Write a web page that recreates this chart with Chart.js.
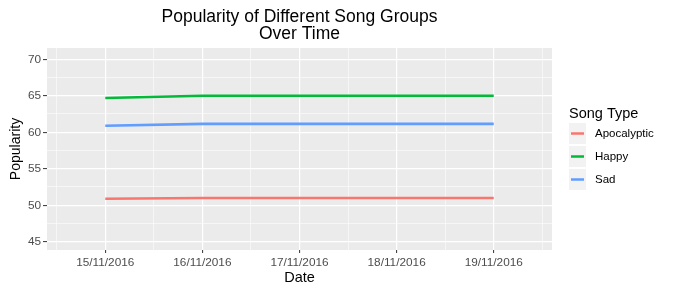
<!DOCTYPE html>
<html>
<head>
<meta charset="utf-8">
<script src="https://cdn.jsdelivr.net/npm/chart.js@4"></script>
<style>
html,body{margin:0;padding:0;background:#fff;}
#wrap{width:679px;height:292px;}
</style>
</head>
<body>
<div id="wrap"><canvas id="c" width="679" height="292"></canvas></div>
<script>
const dates = ['15/11/2016','16/11/2016','17/11/2016','18/11/2016','19/11/2016'];
const apocalyptic = [50.9, 51.0, 51.0, 51.0, 51.0];
const happy = [64.7, 65.0, 65.0, 65.0, 65.0];
const sad = [60.9, 61.15, 61.15, 61.15, 61.15];
const yTicks = [45, 50, 55, 60, 65, 70];
const seriesNames = ['Apocalyptic', 'Happy', 'Sad'];
const seriesColors = ['#F8766D', '#00BA38', '#619CFF'];
const titleLines = ['Popularity of Different Song Groups', 'Over Time'];
const legendTitle = 'Song Type';

const FONT = '"Liberation Sans", Arial, Helvetica, sans-serif';
const seriesData = [apocalyptic, happy, sad];

const bgPlugin = {
  id: 'panelBg',
  beforeDraw(chart) {
    const a = chart.chartArea, c = chart.ctx;
    c.save();
    c.fillStyle = '#EBEBEB';
    c.fillRect(a.left, a.top, a.right - a.left, a.bottom - a.top);
    c.restore();
  },
  afterDraw(chart) {
    const a = chart.chartArea, c = chart.ctx;
    c.save();
    // title
    c.fillStyle = '#000';
    c.font = '17.5px ' + FONT;
    c.textAlign = 'center';
    c.textBaseline = 'alphabetic';
    const cx = (a.left + a.right) / 2;
    c.fillText(titleLines[0], cx, 21.5);
    c.fillText(titleLines[1], cx, 39);
    // legend
    const lx = 569;
    c.textAlign = 'left';
    c.font = '14.5px ' + FONT;
    c.fillText(legendTitle, lx, 118);
    const rowY = [133.5, 156.5, 179.5];
    c.font = '11.5px ' + FONT;
    for (let i = 0; i < seriesNames.length; i++) {
      const y = rowY[i];
      c.fillStyle = '#F2F2F2';
      c.fillRect(lx, y - 10.5, 17, 21);
      c.strokeStyle = seriesColors[i];
      c.lineWidth = 2.5;
      c.beginPath();
      c.moveTo(lx + 2, y);
      c.lineTo(lx + 15, y);
      c.stroke();
      c.fillStyle = '#000';
      c.textBaseline = 'middle';
      c.fillText(seriesNames[i], lx + 26, y);
    }
    c.restore();
  }
};

const isMajorX = v => Math.abs(v - Math.round(v)) < 1e-6;
const isMajorY = v => yTicks.some(t => Math.abs(t - v) < 1e-6);

new Chart(document.getElementById('c'), {
  type: 'line',
  data: {
    datasets: seriesNames.map((n, i) => ({
      label: n,
      data: seriesData[i].map((v, j) => ({ x: j, y: v })),
      borderColor: seriesColors[i],
      backgroundColor: seriesColors[i],
      borderWidth: 2.6,
      pointRadius: 0,
      tension: 0,
      fill: false
    }))
  },
  options: {
    responsive: false,
    animation: false,
    layout: { padding: { left: 0, right: 127, top: 48, bottom: 0 } },
    plugins: { legend: { display: false }, title: { display: false }, tooltip: { enabled: false } },
    scales: {
      x: {
        type: 'linear',
        min: -0.6,
        max: 4.6,
        afterBuildTicks(scale) {
          const t = [];
          for (let v = -0.5; v <= 4.5001; v += 0.5) t.push({ value: Math.round(v * 2) / 2 });
          scale.ticks = t;
        },
        afterFit(scale) { scale.height = 42; },
        border: { display: false },
        grid: {
          color: '#FFFFFF',
          lineWidth: ctx => isMajorX(ctx.tick.value) ? 1.2 : 0.55,
          drawTicks: true,
          tickLength: 3,
          tickColor: ctx => isMajorX(ctx.tick.value) ? '#333333' : 'rgba(0,0,0,0)',
          tickWidth: 1
        },
        ticks: {
          autoSkip: false,
          maxRotation: 0,
          padding: 3,
          color: '#4D4D4D',
          font: { family: FONT, size: 11.8 },
          callback: v => isMajorX(v) ? dates[Math.round(v)] : ''
        },
        title: {
          display: true,
          text: 'Date',
          color: '#000',
          font: { family: FONT, size: 14.5 },
          padding: { top: 0, bottom: 5 }
        }
      },
      y: {
        type: 'linear',
        min: 43.87,
        max: 71.54,
        afterBuildTicks(scale) {
          const t = [];
          for (let v = 45; v <= 70.001; v += 2.5) t.push({ value: v });
          scale.ticks = t;
        },
        afterFit(scale) { scale.width = 47; },
        border: { display: false },
        grid: {
          color: '#FFFFFF',
          lineWidth: ctx => isMajorY(ctx.tick.value) ? 1.2 : 0.55,
          drawTicks: true,
          tickLength: 4,
          tickColor: ctx => isMajorY(ctx.tick.value) ? '#333333' : 'rgba(0,0,0,0)',
          tickWidth: 1
        },
        ticks: {
          autoSkip: false,
          padding: 2,
          color: '#4D4D4D',
          font: { family: FONT, size: 11.8 },
          callback: v => isMajorY(v) ? String(v) : ''
        },
        title: {
          display: true,
          text: 'Popularity',
          color: '#000',
          font: { family: FONT, size: 14 },
          padding: { top: 8, bottom: 0 }
        }
      }
    }
  },
  plugins: [bgPlugin]
});
</script>
</body>
</html>
